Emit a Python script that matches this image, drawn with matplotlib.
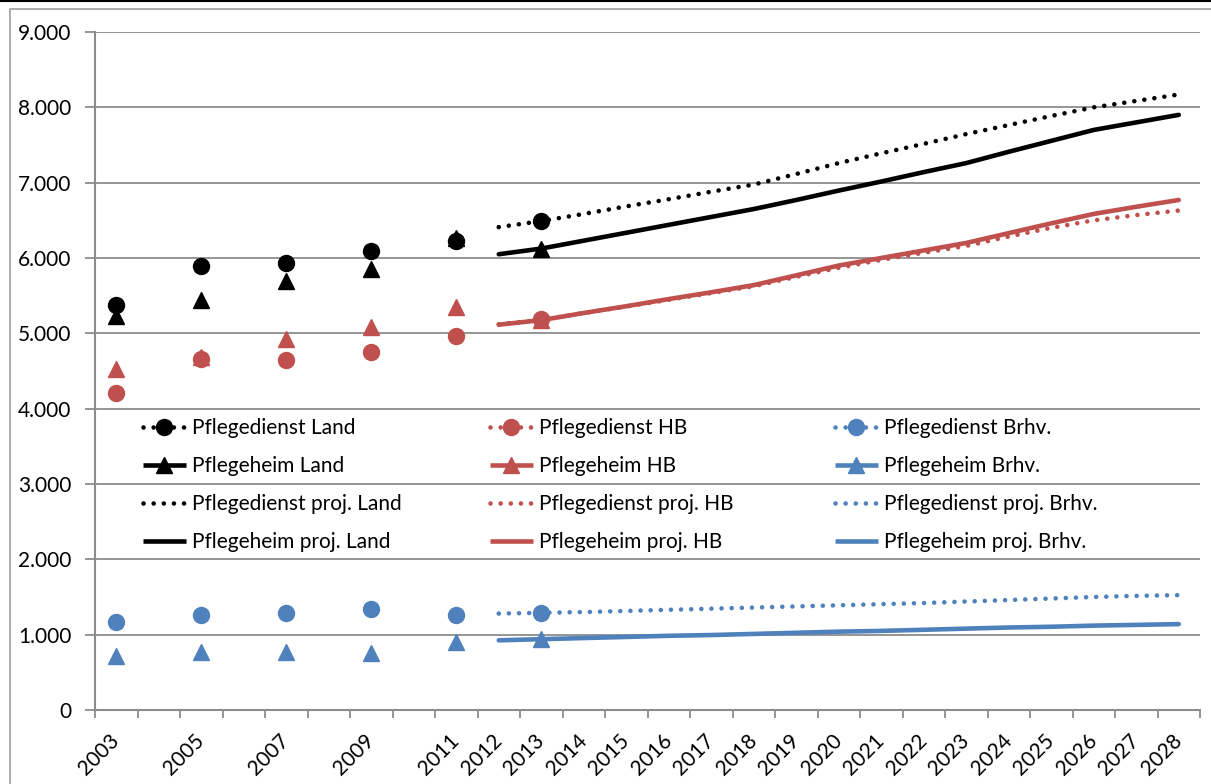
import numpy as np
import matplotlib.pyplot as plt
from matplotlib.lines import Line2D
from matplotlib.legend import Legend
from matplotlib.ticker import FuncFormatter, MultipleLocator

plt.rcParams['font.family'] = ['Lato', 'DejaVu Sans']

# category axis: 2003 .. 2028, only odd years labelled before 2011
years = list(range(2003, 2029))
year_labels = ['2003', '', '2005', '', '2007', '', '2009', '', '2011', '2012', '2013',
               '2014', '2015', '2016', '2017', '2018', '2019', '2020', '2021', '2022',
               '2023', '2024', '2025', '2026', '2027', '2028']

# observed values (2003, 2005, 2007, 2009, 2011, 2013)
obs_years = [2003, 2005, 2007, 2009, 2011, 2013]
pd_land = [5380, 5890, 5935, 6090, 6220, 6490]
ph_land = [5230, 5445, 5695, 5850, 6260, 6125]
pd_hb = [4210, 4660, 4645, 4750, 4970, 5185]
ph_hb = [4520, 4680, 4930, 5090, 5350, 5175]
pd_brhv = [1170, 1265, 1290, 1345, 1255, 1290]
ph_brhv = [720, 775, 765, 755, 900, 940]

# projections 2012 .. 2028
proj_years = list(range(2012, 2029))
pd_proj_land = [6410, 6490, 6585, 6685, 6780, 6880, 6975, 7115, 7260, 7390, 7515, 7645,
                7765, 7885, 8000, 8085, 8170]
ph_proj_land = [6050, 6125, 6230, 6335, 6440, 6545, 6650, 6770, 6895, 7015, 7140, 7260,
                7410, 7555, 7700, 7800, 7900]
pd_proj_hb = [5120, 5180, 5270, 5355, 5445, 5535, 5625, 5750, 5870, 5975, 6070, 6160,
              6285, 6400, 6500, 6570, 6630]
ph_proj_hb = [5115, 5175, 5270, 5360, 5455, 5545, 5640, 5770, 5900, 6000, 6100, 6200,
              6330, 6460, 6585, 6680, 6770]
pd_proj_brhv = [1280, 1290, 1300, 1315, 1330, 1345, 1360, 1375, 1390, 1405, 1420, 1440,
                1460, 1480, 1500, 1515, 1525]
ph_proj_brhv = [925, 940, 955, 970, 985, 995, 1010, 1025, 1040, 1050, 1065, 1080,
                1095, 1105, 1120, 1130, 1140]

BLACK = '#000000'
RED = '#C0504D'
BLUE = '#4F81BD'
GRID = '#8C8C8C'


def full_series(xs, vals):
    # spread values over all categories, gaps stay empty
    out = np.full(len(years), np.nan)
    for x, v in zip(xs, vals):
        out[years.index(x)] = v
    return out


fig = plt.figure(figsize=(12.11, 7.84), dpi=100)
ax = fig.add_axes([95 / 1211, 74 / 784, 1105 / 1211, 678 / 784])

xpos = np.arange(len(years))
lw = 3.3
dots = (0, (0.01, 2.2))

obs = [
    (pd_land, BLACK, 'o', 'Pflegedienst Land'),
    (ph_land, BLACK, '^', 'Pflegeheim Land'),
    (pd_hb, RED, 'o', 'Pflegedienst HB'),
    (ph_hb, RED, '^', 'Pflegeheim HB'),
    (pd_brhv, BLUE, 'o', 'Pflegedienst Brhv.'),
    (ph_brhv, BLUE, '^', 'Pflegeheim Brhv.'),
]
proj = [
    (pd_proj_land, BLACK, dots, 'Pflegedienst proj. Land'),
    (ph_proj_land, BLACK, '-', 'Pflegeheim proj. Land'),
    (pd_proj_hb, RED, dots, 'Pflegedienst proj. HB'),
    (ph_proj_hb, RED, '-', 'Pflegeheim proj. HB'),
    (pd_proj_brhv, BLUE, dots, 'Pflegedienst proj. Brhv.'),
    (ph_proj_brhv, BLUE, '-', 'Pflegeheim proj. Brhv.'),
]

for vals, c, ls, name in proj:
    ax.plot(xpos, full_series(proj_years, vals), color=c, lw=lw, ls=ls,
            dash_capstyle='round', solid_capstyle='round', zorder=3)

for vals, c, m, name in obs:
    ms = 11.5 if m == 'o' else 11
    ax.plot(xpos, full_series(obs_years, vals), color=c, ls='none', marker=m,
            ms=ms, mec=c, zorder=4)

# axes styling
ax.set_xlim(-0.5, len(years) - 0.5)
ax.set_ylim(0, 9000)
ax.yaxis.set_major_locator(MultipleLocator(1000))
ax.yaxis.set_major_formatter(FuncFormatter(lambda v, p: f'{int(v):,}'.replace(',', '.')))
ax.grid(axis='y', color=GRID, lw=1.3)
ax.set_axisbelow(True)
for s in ['top', 'right']:
    ax.spines[s].set_visible(False)
for s in ['left', 'bottom']:
    ax.spines[s].set_color(GRID)
    ax.spines[s].set_linewidth(1.5)

ax.set_xticks(xpos)
ax.set_xticklabels(year_labels, rotation=45, ha='right', va='center',
                   rotation_mode='anchor', fontsize=15)
ax.set_xticks(np.arange(-0.5, len(years)), minor=True)
ax.tick_params(axis='x', which='major', length=0, pad=20)
ax.tick_params(axis='x', which='minor', length=6, width=1.3, color=GRID)
ax.tick_params(axis='y', length=7, width=1.3, color=GRID, labelsize=15, pad=10)


def handle(entry, is_obs):
    vals, c, st, name = entry
    if is_obs:
        return Line2D([], [], color=c, lw=lw, ls=dots if st == 'o' else '-',
                      marker=st, ms=11.5 if st == 'o' else 11,
                      dash_capstyle='round', solid_capstyle='butt')
    return Line2D([], [], color=c, lw=lw, ls=st, dash_capstyle='round',
                  solid_capstyle='butt')


# three legend columns, one per region
col_x = [143, 490, 835]
for k in range(3):
    entries = [(obs[2 * k], True), (obs[2 * k + 1], True),
               (proj[2 * k], False), (proj[2 * k + 1], False)]
    hs = [handle(e, o) for e, o in entries]
    labels = [e[3] for e, o in entries]
    leg = Legend(ax, hs, labels, loc='upper left',
                 bbox_to_anchor=(col_x[k] / 1211, 1 - 418 / 784),
                 bbox_transform=fig.transFigure, frameon=False, fontsize=15,
                 handlelength=2.05, handletextpad=0.3, labelspacing=0.87,
                 borderpad=0, borderaxespad=0)
    ax.add_artist(leg)

# chart frame
fig.add_artist(Line2D([0, 1], [1 - 0.5 / 784, 1 - 0.5 / 784], color='black', lw=1.5,
                      transform=fig.transFigure))
fig.add_artist(Line2D([10 / 1211, 10 / 1211, 1], [0, 1 - 9 / 784, 1 - 9 / 784],
                      color='#A6A6A6', lw=1.3, transform=fig.transFigure))

fig.savefig('out.png', dpi=100)
